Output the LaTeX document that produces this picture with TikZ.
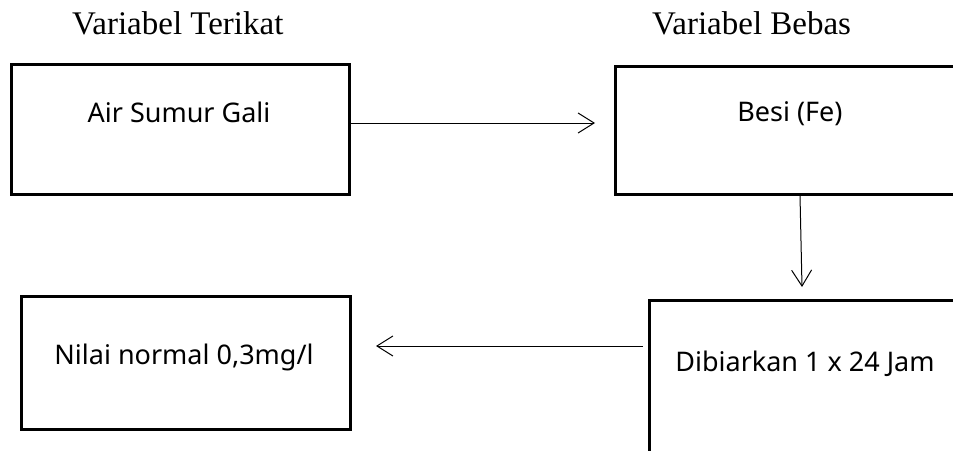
\documentclass[tikz,border=0pt]{standalone}
\usepackage{fontspec}
\setmainfont{Liberation Serif}
\newfontfamily\boxfont{Noto Sans}
\usetikzlibrary{arrows.meta}
\tikzset{
  x=1pt, y=-1pt,
  box/.style={draw, line width=2.5pt, minimum width=#1, anchor=north west, inner sep=0pt},
  boxtext/.style={font=\boxfont\fontsize{27}{32}\selectfont, inner sep=0pt, anchor=base},
  head/.style={font=\fontsize{33}{38}\selectfont, inner sep=0pt, anchor=base west},
  arr/.style={line width=1pt, -{Straight Barb[length=16pt, width=20pt, line width=1pt]}}
}
\begin{document}
\begin{tikzpicture}
\clip (0,0) rectangle (953,450);
\fill[white] (0,0) rectangle (953,450);
\node[head] (h1) at (72,34) {Variabel Terikat};
\node[head] (h2) at (652,34) {Variabel Bebas};
\node[box=338pt, minimum height=130pt] (a) at (10,63) {};
\node[box=400pt, minimum height=128pt] (b) at (614,65) {};
\node[box=329pt, minimum height=133pt] (c) at (20,295) {};
\node[box=400pt, minimum height=200pt] (d) at (648,299) {};
\node[boxtext] (ta) at (179,122) {Air Sumur Gali};
\node[boxtext] (tb) at (790,121.5) {Besi (Fe)};
\node[boxtext] (tc) at (184,364) {Nilai normal 0,3mg/l};
\node[boxtext] (td) at (805,371) {Dibiarkan 1 x 24 Jam};
\coordinate (p1) at (595,123);
\coordinate (p2) at (802,287);
\coordinate (p3) at (376,346);
\draw[arr] (a.east |- p1) -- (p1);
\draw[arr] (b.south -| 800,0) -- (p2);
\draw[arr] (643,346) -- (p3);
\end{tikzpicture}
\end{document}
